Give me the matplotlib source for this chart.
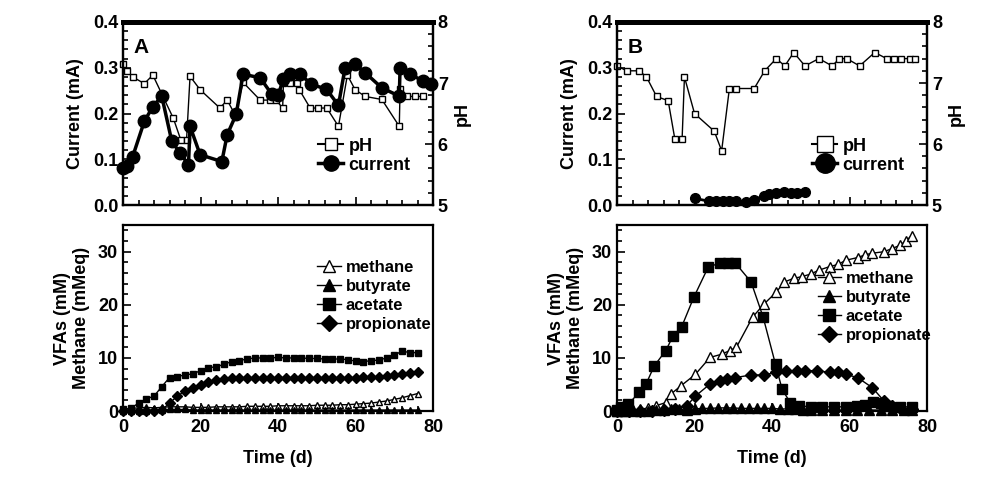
import matplotlib
matplotlib.use('Agg')
import matplotlib.pyplot as plt
from matplotlib.ticker import MultipleLocator

plt.rcParams['font.family'] = ['Liberation Sans', 'DejaVu Sans']
plt.rcParams['font.weight'] = 'bold'
plt.rcParams['axes.labelweight'] = 'bold'
plt.rcParams['font.size'] = 12

# ---- Panel A data ----
a_ph_t = [0, 1, 2.5, 5.5, 7.7, 13, 14.9, 16.4, 17.3, 19.9, 25, 26.9, 28.9, 31, 35.4, 37.9, 39.5,
          41.2, 41.4, 43.1, 44.8, 45.5, 48.3, 50.4, 52.6, 55.6, 57.9, 59.9, 62.5, 66.8, 71.3, 71.5,
          73.2, 75.3, 77.5]
a_ph = [7.31, 7.2, 7.1, 6.99, 7.13, 6.42, 6.07, 6.07, 7.11, 6.89, 6.59, 6.72, 6.48, 7.01, 6.72, 6.72, 6.72,
        6.59, 7.0, 7.0, 7.0, 6.89, 6.59, 6.59, 6.59, 6.29, 7.13, 6.89, 6.78, 6.73, 6.29, 6.9,
        6.78, 6.78, 6.78]
a_cur_t = [0, 1, 2.5, 5.5, 7.7, 10, 12.6, 14.7, 16.9, 17.3, 19.9, 25.5, 26.9, 29.2, 31, 35.4, 38.4, 40,
           41.4, 43.1, 45.7, 48.6, 52.5, 55.6, 57.3, 59.9, 62.5, 66.8, 71.3, 71.5, 74, 77.5, 79.6]
a_cur = [0.08, 0.085, 0.106, 0.183, 0.215, 0.238, 0.139, 0.114, 0.088, 0.172, 0.11, 0.095, 0.154, 0.198,
         0.286, 0.278, 0.242, 0.24, 0.275, 0.286, 0.286, 0.264, 0.253, 0.218, 0.30, 0.308, 0.289, 0.256,
         0.238, 0.30, 0.286, 0.271, 0.264]

a_vfa_t = [0, 2, 4, 6, 8, 10, 12, 14, 16, 18, 20, 22, 24, 26, 28, 30, 32, 34, 36, 38, 40, 42, 44, 46,
           48, 50, 52, 54, 56, 58, 60, 62, 64, 66, 68, 70, 72, 74, 76]
a_acetate = [0.3, 0.5, 1.5, 2.3, 2.8, 4.6, 6.3, 6.5, 6.8, 7.0, 7.6, 8.2, 8.3, 8.8, 9.3, 9.5, 9.8, 10.0,
             10.0, 10.0, 10.1, 10.0, 10.0, 10.0, 9.9, 9.9, 9.8, 9.8, 9.8, 9.7, 9.4, 9.3, 9.5, 9.6, 10.0,
             10.5, 11.3, 11.0, 11.0]
a_propionate = [0, 0, 0, 0, 0, 0.2, 1.5, 2.8, 3.8, 4.4, 5.0, 5.5, 5.9, 6.1, 6.2, 6.3, 6.3, 6.3, 6.3, 6.3,
                6.3, 6.3, 6.3, 6.3, 6.3, 6.3, 6.3, 6.3, 6.3, 6.3, 6.3, 6.4, 6.4, 6.5, 6.6, 6.8, 7.0,
                7.2, 7.4]
a_methane = [0.3, 0.5, 0.6, 0.7, 0.6, 0.7, 0.8, 0.8, 0.8, 0.7, 0.7, 0.7, 0.8, 0.8, 0.8, 0.8, 0.9, 0.9,
             0.9, 0.9, 1.0, 1.0, 1.0, 1.0, 1.0, 1.1, 1.1, 1.1, 1.2, 1.2, 1.3, 1.4, 1.5, 1.7, 1.9, 2.2,
             2.5, 2.9, 3.3]
a_butyrate = [0.1, 0.1, 0.1, 0.1, 0.2, 0.2, 0.3, 0.3, 0.3, 0.2, 0.2, 0.2, 0.2, 0.2, 0.2, 0.2, 0.2, 0.2,
              0.2, 0.2, 0.2, 0.2, 0.2, 0.2, 0.2, 0.2, 0.2, 0.2, 0.2, 0.2, 0.2, 0.2, 0.2, 0.2, 0.2, 0.2,
              0.2, 0.2, 0.2]

# ---- Panel B data ----
b_ph_t = [0, 2.5, 5.7, 7.6, 10.2, 13.2, 14.9, 16.8, 17.4, 20, 25.1, 27, 29, 30.8, 35.4, 38.1, 41.1,
          43.3, 45.6, 48.5, 52.1, 55.5, 57.4, 59.3, 62.6, 66.5, 69.6, 71.5, 73.4, 75.5, 77]
b_ph = [7.28, 7.2, 7.2, 7.1, 6.78, 6.71, 6.09, 6.09, 7.1, 6.5, 6.21, 5.89, 6.91, 6.91, 6.91, 7.2, 7.4,
        7.28, 7.5, 7.28, 7.4, 7.28, 7.4, 7.4, 7.28, 7.5, 7.4, 7.4, 7.4, 7.4, 7.4]
b_cur_t = [20, 23.8, 25.6, 27.3, 29, 30.7, 33.3, 35.4, 37.9, 39.2, 40.9, 43.1, 44.8, 46.5, 48.6]
b_cur = [0.015, 0.008, 0.008, 0.008, 0.008, 0.008, 0.006, 0.012, 0.02, 0.024, 0.027, 0.028, 0.026,
         0.026, 0.029]

b_ac_t = [0, 1, 2.9, 5.7, 7.5, 9.6, 12.6, 14.5, 16.7, 19.8, 23.6, 26.6, 28.7, 30.5, 34.6, 37.7, 40.9,
          42.6, 44.7, 47, 50, 53, 56, 59, 62, 64, 66, 68, 70, 73, 76]
b_acetate = [0.2, 0.8, 1.3, 3.5, 5.1, 8.5, 11.4, 14.2, 15.9, 21.4, 27.2, 27.8, 27.9, 27.9, 24.3, 17.7,
             8.8, 4.1, 1.6, 1.0, 0.8, 0.8, 0.8, 0.8, 0.9, 1.2, 1.8, 1.5, 1.0, 0.8, 0.8]
b_me_t = [0, 2, 4, 6, 8, 10, 12.6, 13.9, 16.4, 20.2, 24, 27, 29.1, 30.8, 35, 38, 41.1, 43.2, 45.6, 47.7,
          50, 52, 54.9, 57, 59.1, 62.1, 64, 65.7, 68.9, 71, 73, 74.5, 76]
b_methane = [0, 0.1, 0.2, 0.3, 0.6, 1.0, 1.6, 3.2, 4.7, 6.9, 10.1, 10.7, 11.4, 12.0, 17.7, 20.2, 22.4,
             24.3, 25.0, 25.3, 25.8, 26.5, 27.2, 27.6, 28.4, 28.9, 29.4, 29.7, 30.0, 30.6, 31.2, 32.0,
             33.0]
b_pr_t = [0, 3, 6, 9, 12, 15, 18, 20.2, 24, 26.6, 28.3, 30.5, 34.6, 38, 41.1, 43.5, 46.5, 48.6, 51.5,
          54.9, 57, 59.1, 62.1, 65.9, 68.9, 71, 73, 76]
b_propionate = [0, 0, 0, 0, 0.2, 0.3, 1.0, 2.8, 5.1, 5.7, 6.0, 6.3, 6.8, 6.8, 7.3, 7.6, 7.6, 7.6, 7.6,
                7.3, 7.3, 6.9, 6.3, 4.4, 1.9, 1.0, 0.6, 0.3]
b_bu_t = [0, 2, 4, 6, 8, 10, 12, 14, 16, 18, 20, 22, 24, 26, 28, 30, 32, 34, 36, 38, 40, 42, 44, 46,
          48, 50, 53, 56, 59, 62, 65, 68, 71, 74, 76]
b_butyrate = [0, 0, 0, 0.1, 0.1, 0.2, 0.2, 0.3, 0.3, 0.2, 0.4, 0.5, 0.5, 0.6, 0.6, 0.6, 0.5, 0.5, 0.5,
              0.5, 0.5, 0.4, 0.4, 0.3, 0.2, 0.2, 0.2, 0.2, 0.2, 0.2, 0.2, 0.2, 0.2, 0.2, 0.2]


def style_axis(ax, top_panel):
    ax.set_xlim(0, 80)
    ax.xaxis.set_major_locator(MultipleLocator(20))
    ax.xaxis.set_minor_locator(MultipleLocator(4))
    ax.tick_params(which='both', direction='in', width=1.2, labelsize=13)
    ax.tick_params(which='major', length=6)
    ax.tick_params(which='minor', length=3.5)
    ax.tick_params(axis='y', which='both', right=False)
    ax.tick_params(axis='x', which='both', top=False)
    for s in ax.spines.values():
        s.set_linewidth(1.6)
    if top_panel:
        ax.spines['top'].set_linewidth(3.5)
        ax.tick_params(axis='x', labelbottom=False)


def top_panel(ax, letter, ph_t, ph, cur_t, cur, cur_ms, cur_lw, leg_ms):
    ax2 = ax.twinx()
    ax.set_zorder(ax2.get_zorder() + 1)
    ax.patch.set_visible(False)
    ax2.plot(ph_t, ph, '-s', color='black', mfc='white', mec='black',
             ms=5, lw=1.0, mew=1.0, clip_on=False)
    ax.plot(cur_t, cur, '-o', color='black', ms=cur_ms, lw=cur_lw, clip_on=False)
    ax.set_ylim(0, 0.4)
    ax.yaxis.set_major_locator(MultipleLocator(0.1))
    ax.yaxis.set_minor_locator(MultipleLocator(0.02))
    ax.set_yticklabels(['%.1f' % v for v in ax.get_yticks()])
    ax2.set_ylim(5, 8)
    ax2.yaxis.set_major_locator(MultipleLocator(1))
    ax2.yaxis.set_minor_locator(MultipleLocator(0.2))
    ax2.tick_params(which='both', direction='in', width=1.2, labelsize=13)
    ax2.tick_params(which='major', length=6)
    ax2.tick_params(which='minor', length=3.5)
    for s in ax2.spines.values():
        s.set_linewidth(1.6)
    ax2.spines['top'].set_linewidth(3.5)
    style_axis(ax, True)
    ax.set_ylabel('Current (mA)', fontsize=13, labelpad=6)
    ax2.set_ylabel('pH', fontsize=13, labelpad=4)
    ax.text(0.035, 0.91, letter, transform=ax.transAxes, fontsize=15, fontweight='bold',
            va='top', ha='left')
    h_ph = plt.Line2D([], [], marker='s', color='black', mfc='white', ms=leg_ms[0], lw=1.5)
    h_cur = plt.Line2D([], [], marker='o', color='black', ms=leg_ms[1], lw=2.5)
    ax.legend([h_ph, h_cur], ['pH', 'current'], loc='center left',
              bbox_to_anchor=(0.6, 0.27), frameon=False, fontsize=13,
              handlelength=1.4, handletextpad=0.3, labelspacing=0.1, borderpad=0)


def bottom_panel(ax, series, ms, leg_anchor):
    for t, v, m, fill in series:
        ax.plot(t, v, '-' + m, color='black', mfc=fill, mec='black', ms=ms, lw=1.0, mew=1.0,
                clip_on=False)
    ax.set_ylim(0, 35)
    ax.yaxis.set_major_locator(MultipleLocator(10))
    ax.yaxis.set_minor_locator(MultipleLocator(2))
    style_axis(ax, False)
    ax.set_xlabel('Time (d)', fontsize=13, labelpad=10)
    ax.set_ylabel('VFAs (mM)\nMethane (mMeq)', fontsize=13, labelpad=6, linespacing=1.1)
    handles = [plt.Line2D([], [], marker=m, color='black', mfc=fill, mec='black', ms=8, lw=1.0)
               for _, _, m, fill in series]
    ax.legend(handles, ['methane', 'butyrate', 'acetate', 'propionate'], loc='center left',
              bbox_to_anchor=leg_anchor, frameon=False, fontsize=12,
              handlelength=1.4, handletextpad=0.3, labelspacing=0.25, borderpad=0)
    ax.tick_params(axis='x', pad=6)


fig = plt.figure(figsize=(9.92, 4.78), dpi=100)

axA = fig.add_axes([0.124, 0.571, 0.3125, 0.383])
axA2 = fig.add_axes([0.124, 0.140, 0.3125, 0.389])
axB = fig.add_axes([0.622, 0.571, 0.3125, 0.383])
axB2 = fig.add_axes([0.622, 0.140, 0.3125, 0.389])

top_panel(axA, 'A', a_ph_t, a_ph, a_cur_t, a_cur, 9, 2.5, (9, 11))
top_panel(axB, 'B', b_ph_t, b_ph, b_cur_t, b_cur, 7, 2.0, (12, 14))

bottom_panel(axA2, [(a_vfa_t, a_methane, '^', 'white'),
                    (a_vfa_t, a_butyrate, '^', 'black'),
                    (a_vfa_t, a_acetate, 's', 'black'),
                    (a_vfa_t, a_propionate, 'D', 'black')], 5, (0.6, 0.62))
bottom_panel(axB2, [(b_me_t, b_methane, '^', 'white'),
                    (b_bu_t, b_butyrate, '^', 'black'),
                    (b_ac_t, b_acetate, 's', 'black'),
                    (b_pr_t, b_propionate, 'D', 'black')], 6.5, (0.62, 0.56))

fig.savefig('out.png', dpi=100)
